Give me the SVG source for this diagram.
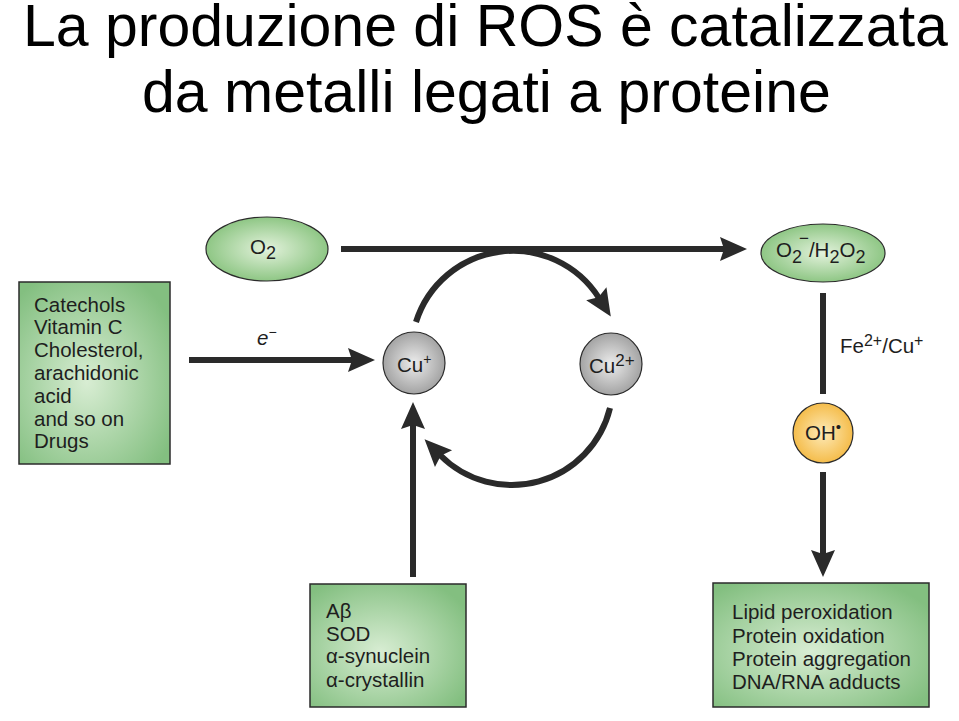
<svg xmlns="http://www.w3.org/2000/svg" width="959" height="721" viewBox="0 0 959 721">
<defs>
<radialGradient id="gBox" cx="0.45" cy="0.55" r="0.65">
<stop offset="0" stop-color="#d8edd3"/>
<stop offset="1" stop-color="#83bf80"/>
</radialGradient>
<radialGradient id="gEll" cx="0.5" cy="0.5" r="0.55">
<stop offset="0" stop-color="#e3f2dc"/>
<stop offset="1" stop-color="#86c27c"/>
</radialGradient>
<radialGradient id="gGray" cx="0.5" cy="0.5" r="0.55">
<stop offset="0" stop-color="#ececec"/>
<stop offset="1" stop-color="#9c9c9c"/>
</radialGradient>
<radialGradient id="gOH" cx="0.5" cy="0.5" r="0.55">
<stop offset="0" stop-color="#fdeab8"/>
<stop offset="1" stop-color="#f4b840"/>
</radialGradient>
<marker id="ah" markerUnits="userSpaceOnUse" orient="auto" overflow="visible" markerWidth="1" markerHeight="1" refX="0" refY="0">
<path d="M-5,-12 L22,0 L-5,12 L-1,0 z" fill="#2a2a2a"/>
</marker>
</defs>
<style>
.title{font-family:"Liberation Sans",Arial,sans-serif;font-size:59px;fill:#000}
.t{font-family:"Liberation Sans",Arial,sans-serif;font-size:20.5px;fill:#1e1e1e}
.box{fill:url(#gBox);stroke:#2b2b2b;stroke-width:1.5}
.ell{fill:url(#gEll);stroke:#2b2b2b;stroke-width:1.2}
.gray{fill:url(#gGray);stroke:#2b2b2b;stroke-width:1.2}
.oh{fill:url(#gOH);stroke:#2b2b2b;stroke-width:1.2}
.c{fill:none;stroke:#2a2a2a;stroke-width:6}
.a{marker-end:url(#ah)}
</style>
<rect width="959" height="721" fill="#fff"/>
<g id="title">
<text class="title" x="23" y="46">La produzione di ROS è catalizzata</text>
<text class="title" x="142" y="112">da metalli legati a proteine</text>
</g>
<g id="connectors">
<path class="c a" d="M341,249 H725"/>
<path class="c a" d="M189,360 H353"/>
<path class="c a" d="M413,577 V424"/>
<path class="c a" d="M823,472 V555"/>
<path class="c" d="M823,293 V394"/>
<path class="c a" d="M416,322 A101.8,101.8 0 0 1 599,298"/>
<path class="c a" d="M610,408 A101,101 0 0 1 440,455"/>
<text class="t" x="257" y="345" font-style="italic" font-size="20">e<tspan font-size="14" dy="-8" font-style="normal">−</tspan></text>
<text class="t" x="840" y="353" font-size="21">Fe<tspan font-size="16" dy="-7">2+</tspan><tspan dy="7">/Cu</tspan><tspan font-size="16" dy="-7">+</tspan></text>
</g>
<g id="n-sources">
<rect class="box" x="19" y="282" width="151" height="182"/>
<text class="t" x="34" y="311.5">Catechols</text>
<text class="t" x="34" y="334">Vitamin C</text>
<text class="t" x="34" y="357">Cholesterol,</text>
<text class="t" x="34" y="380">arachidonic</text>
<text class="t" x="34" y="402.5">acid</text>
<text class="t" x="34" y="425.5">and so on</text>
<text class="t" x="34" y="448">Drugs</text>
</g>
<g id="n-o2">
<ellipse class="ell" cx="267" cy="249" rx="61" ry="32"/>
<text class="t" x="250" y="254" font-size="21">O<tspan font-size="18" dy="5">2</tspan></text>
</g>
<g id="n-ros">
<ellipse class="ell" cx="823" cy="253" rx="62" ry="29"/>
<text class="t" x="776" y="257" font-size="21">O<tspan font-size="18" dy="6">2</tspan><tspan font-size="17" dx="-3" dy="-19">−</tspan><tspan dy="13">/H</tspan><tspan font-size="18" dy="6">2</tspan><tspan dy="-6">O</tspan><tspan font-size="18" dy="6">2</tspan></text>
</g>
<g id="n-cu1">
<circle class="gray" cx="414" cy="363" r="31"/>
<text class="t" x="397" y="372" font-size="20">Cu<tspan font-size="14" dy="-8">+</tspan></text>
</g>
<g id="n-cu2">
<circle class="gray" cx="611" cy="364" r="31"/>
<text class="t" x="589" y="373" font-size="20">Cu<tspan font-size="17" dy="-7">2+</tspan></text>
</g>
<g id="n-oh">
<circle class="oh" cx="823" cy="433" r="30"/>
<text class="t" x="805" y="440" font-size="20">OH<tspan font-size="15" dy="-8">•</tspan></text>
</g>
<g id="n-proteins">
<rect class="box" x="310" y="584" width="156" height="123"/>
<text class="t" x="326" y="618">Aβ</text>
<text class="t" x="326" y="640.5">SOD</text>
<text class="t" x="326" y="663">α-synuclein</text>
<text class="t" x="326" y="686.5">α-crystallin</text>
</g>
<g id="n-damage">
<rect class="box" x="713" y="583" width="216" height="124"/>
<text class="t" x="732" y="619">Lipid peroxidation</text>
<text class="t" x="732" y="642.5">Protein oxidation</text>
<text class="t" x="732" y="666">Protein aggregation</text>
<text class="t" x="732" y="689">DNA/RNA adducts</text>
</g>
</svg>
